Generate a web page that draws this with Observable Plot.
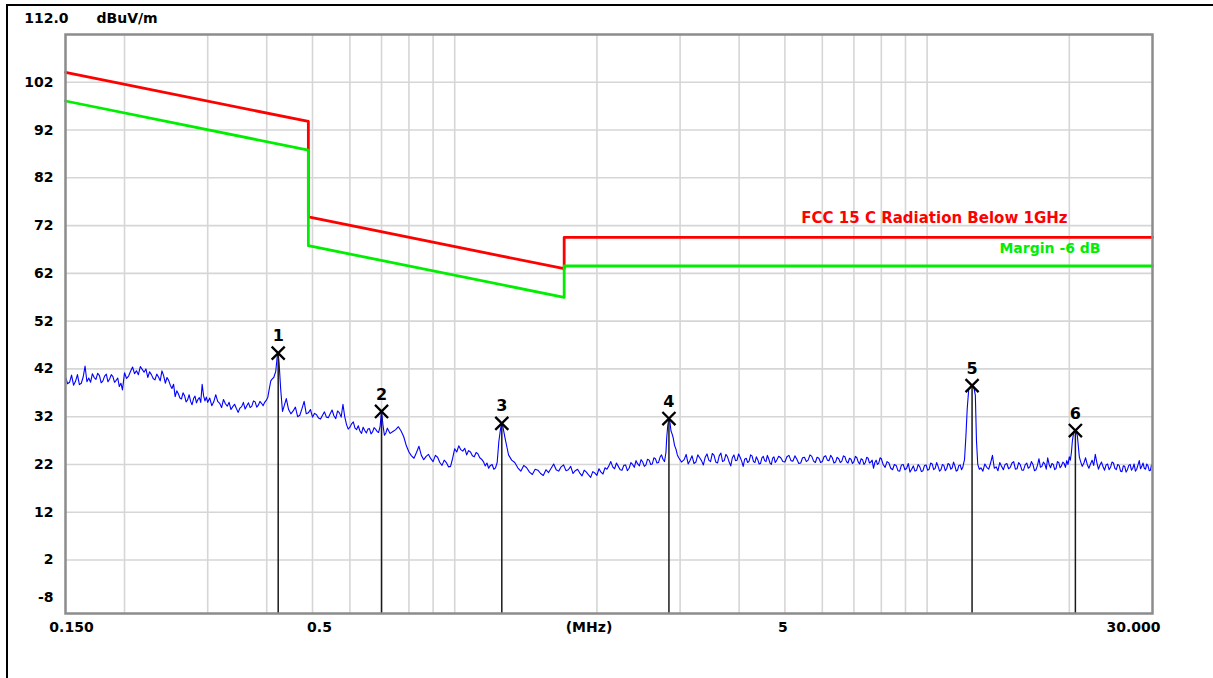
<!DOCTYPE html>
<html>
<head>
<meta charset="utf-8">
<script src="https://cdn.jsdelivr.net/npm/d3@7"></script>
<script src="https://cdn.jsdelivr.net/npm/@observablehq/plot@0.6"></script>
<style>
  html, body { margin: 0; padding: 0; background: #fff; overflow: hidden; }
  #wrap { position: relative; width: 1213px; height: 678px; }
  #wrap svg { position: absolute; left: 0; top: 0; }
  #border { position: absolute; left: 6px; top: 4px; right: 0; bottom: 0;
            border-top: 2px solid #000; border-left: 2px solid #000; pointer-events: none; }
</style>
</head>
<body>
<div id="wrap"><div id="border"></div></div>
<script>
// ---- Radiated emission scan, 0.15 – 30 MHz ----

// FCC Part 15 C limit (dBuV/m) and the -6 dB margin line
const limitName = "FCC 15 C Radiation Below 1GHz";
const marginName = "Margin -6 dB";
const marginOffset = -6;
const limitFreq  = [0.15, 0.49, 0.49, 1.705, 1.705, 30];
const limitLevel = [104.08, 93.8, 73.8, 62.97, 69.54, 69.54];

// Measured trace: [frequency MHz, level dBuV/m]
const scanPoints = [
  [0.150,40.3],[0.1515,38.9],[0.153,39.2],[0.1545,40.7],[0.156,38.6],[0.1575,39.4],[0.159,40.8],[0.1605,38.7],
  [0.162,39.0],[0.1635,40.3],[0.165,42.6],[0.1665,39.3],[0.168,40.1],[0.1695,39.2],[0.171,41.0],[0.1725,40.2],
  [0.174,39.8],[0.1755,41.1],[0.177,40.6],[0.1785,39.1],[0.180,39.5],[0.1815,40.5],[0.183,40.9],[0.1845,39.3],
  [0.186,39.9],[0.1875,40.8],[0.189,40.4],[0.1905,39.2],[0.192,39.6],[0.1935,40.1],[0.195,38.3],[0.1965,39.0],
  [0.198,37.6],[0.199,39.4],
  [0.200,41.2],[0.202,40.0],[0.204,40.5],[0.206,41.5],[0.208,42.4],[0.210,41.0],[0.212,41.6],[0.214,40.8],
  [0.216,42.5],[0.218,41.9],[0.220,41.3],[0.222,42.0],[0.224,40.2],[0.226,41.4],[0.228,40.8],[0.230,40.0],
  [0.232,39.7],[0.234,40.9],[0.236,40.3],[0.238,39.5],[0.240,41.6],[0.242,40.6],[0.244,39.0],[0.246,40.2],
  [0.248,39.6],[0.250,38.6],[0.252,37.9],[0.254,38.8],[0.256,36.2],[0.258,37.4],[0.260,36.8],[0.262,35.9],
  [0.264,35.7],[0.266,37.0],[0.268,36.4],[0.270,35.1],[0.272,35.5],[0.274,36.6],[0.276,35.2],[0.278,34.5],
  [0.280,35.8],[0.282,36.3],[0.284,34.9],[0.286,35.6],[0.288,36.0],[0.290,35.0],[0.292,38.8],[0.294,36.4],
  [0.296,35.3],[0.298,36.1],
  [0.300,35.0],[0.303,35.9],[0.306,34.3],[0.309,35.1],[0.312,36.6],[0.315,35.2],[0.318,34.8],[0.321,33.9],
  [0.324,35.6],[0.327,34.7],[0.330,34.2],[0.333,35.0],[0.336,33.5],[0.339,34.1],[0.342,34.6],[0.345,33.7],
  [0.348,32.9],[0.351,33.8],[0.354,34.1],[0.357,35.0],[0.360,33.6],[0.363,34.3],[0.366,34.9],[0.369,33.9],
  [0.372,34.2],[0.375,35.3],[0.378,35.1],[0.381,34.0],[0.384,34.4],[0.387,35.2],[0.390,34.8],[0.393,34.3],
  [0.396,35.0],[0.399,35.4],[0.402,36.0],[0.405,37.8],[0.408,39.5],[0.411,39.9],[0.414,40.2],[0.418,41.5],
  [0.421,44.6],[0.423,45.3],[0.425,43.0],[0.428,38.0],[0.430,35.5],[0.432,33.1],[0.436,34.4],
  [0.44,35.8],[0.445,33.5],[0.45,32.6],[0.455,33.2],[0.46,34.0],[0.465,32.0],[0.47,32.3],[0.475,33.7],
  [0.48,35.2],[0.485,32.6],[0.49,32.8],[0.495,33.5],[0.50,31.9],[0.505,32.7],[0.51,32.4],[0.515,31.7],
  [0.52,31.5],[0.525,32.3],[0.53,33.0],[0.535,31.9],[0.54,31.8],[0.545,32.6],[0.55,33.4],[0.555,32.2],
  [0.56,31.6],[0.565,33.2],[0.57,32.8],[0.575,31.9],[0.58,34.6],[0.585,32.0],[0.59,30.4],[0.595,29.4],
  [0.60,29.8],[0.605,30.5],[0.61,30.9],[0.615,29.6],[0.62,29.3],[0.625,30.1],[0.63,29.0],[0.635,28.5],
  [0.64,29.8],[0.645,29.1],[0.65,28.6],[0.655,29.4],[0.66,29.5],[0.665,28.4],[0.67,28.8],[0.675,29.7],
  [0.68,29.4],[0.685,28.9],[0.69,28.7],[0.695,29.9],[0.700,33.1],[0.705,30.2],[0.71,28.1],[0.715,28.6],
  [0.72,29.6],[0.73,28.5],[0.74,28.9],[0.75,29.3],[0.76,29.9],[0.77,29.0],[0.78,27.8],[0.79,25.9],
  [0.80,24.6],[0.81,23.8],[0.82,23.3],[0.83,24.5],[0.84,25.8],[0.85,23.9],[0.86,23.0],[0.87,23.7],
  [0.88,24.1],[0.89,23.2],[0.90,22.6],[0.91,23.9],[0.92,23.5],[0.93,22.4],[0.94,21.8],[0.95,22.9],
  [0.96,22.4],[0.97,21.5],[0.98,21.6],[0.99,23.3],[1.00,25.3],[1.01,24.6],[1.02,25.9],[1.03,25.1],
  [1.04,24.8],[1.05,25.4],[1.06,24.0],[1.07,24.9],[1.08,24.6],[1.09,23.8],[1.10,23.6],[1.11,24.5],
  [1.12,24.2],[1.13,23.4],[1.14,23.1],[1.15,22.6],[1.16,21.7],[1.17,22.3],[1.18,21.2],[1.19,21.8],
  [1.20,22.0],[1.21,21.0],[1.22,21.3],[1.23,22.4],[1.24,26.8],[1.25,29.4],[1.258,30.6],[1.265,29.8],
  [1.28,27.2],[1.29,25.6],[1.30,24.0],[1.32,22.9],
  [1.34,22.4],[1.36,21.3],[1.38,20.6],[1.40,21.8],[1.42,21.3],[1.44,20.4],[1.46,19.9],[1.48,21.0],
  [1.50,20.8],[1.52,20.1],[1.54,19.7],[1.56,20.9],[1.58,20.3],[1.60,21.2],[1.62,22.1],[1.64,20.9],
  [1.66,20.6],[1.68,21.5],[1.70,21.9],[1.72,20.7],[1.74,20.9],[1.76,21.6],[1.78,20.1],[1.80,20.7],
  [1.82,21.0],[1.84,20.2],[1.86,19.6],[1.88,20.8],[1.90,20.4],[1.92,19.8],[1.94,19.3],[1.96,20.5],
  [1.98,20.2],[2.00,19.7],[2.02,21.1],[2.04,20.4],[2.06,20.0],[2.08,21.3],[2.10,21.0],[2.12,21.7],
  [2.14,22.6],[2.16,21.5],[2.18,21.1],[2.20,22.3],[2.22,21.6],[2.24,20.9],[2.26,20.8],[2.28,21.8],
  [2.30,21.9],[2.32,20.7],[2.34,21.2],[2.36,22.4],[2.38,22.0],[2.40,21.4],[2.42,22.8],[2.44,22.1],
  [2.46,21.7],[2.48,23.0],[2.50,22.5],[2.52,21.6],[2.54,21.9],[2.56,23.1],[2.58,22.9],[2.60,22.0],
  [2.62,22.1],[2.64,23.4],[2.66,23.2],[2.68,22.3],[2.70,22.4],[2.72,23.5],[2.74,24.0],[2.76,23.1],
  [2.78,22.6],[2.80,24.5],[2.81,27.5],[2.825,30.2],[2.841,31.6],[2.855,30.8],[2.87,29.0],[2.885,28.4],
  [2.90,27.6],[2.92,26.0],[2.94,25.2],[2.96,24.0],[2.98,23.4],[3.02,22.5],
  [3.06,23.0],[3.09,24.1],[3.12,22.1],[3.15,22.9],[3.18,23.8],[3.21,22.2],[3.24,22.5],[3.27,24.0],
  [3.30,23.4],[3.33,22.8],[3.36,21.9],[3.39,23.5],[3.42,24.2],[3.45,22.9],[3.48,22.6],[3.51,24.3],
  [3.54,23.9],[3.57,22.5],[3.60,22.3],[3.63,23.8],[3.66,24.4],[3.69,22.6],[3.72,22.8],[3.75,24.1],
  [3.78,23.6],[3.81,22.5],[3.84,21.7],[3.87,23.4],[3.90,24.0],[3.93,22.8],[3.96,22.9],[3.99,24.2],
  [4.02,23.5],[4.05,22.7],[4.08,21.6],[4.11,23.1],[4.14,23.3],[4.17,22.4],[4.20,22.7],[4.23,24.0],
  [4.26,23.8],[4.29,22.6],[4.32,22.4],[4.35,23.6],[4.38,23.0],[4.41,22.1],[4.44,22.2],[4.47,23.4],
  [4.50,23.7],[4.53,22.8],[4.56,22.6],[4.59,23.9],[4.62,23.2],[4.65,22.3],[4.68,22.0],[4.71,23.3],
  [4.74,23.6],[4.77,22.4],[4.80,22.8],[4.85,23.7],
  [4.9,23.4],[4.95,22.6],[5.0,22.5],[5.05,23.6],[5.1,23.9],[5.15,22.8],[5.2,22.7],[5.25,23.8],
  [5.3,23.1],[5.35,22.2],[5.4,22.3],[5.45,23.4],[5.5,23.5],[5.55,22.6],[5.6,22.9],[5.65,24.0],
  [5.7,23.7],[5.75,22.7],[5.8,22.4],[5.85,23.5],[5.9,23.3],[5.95,22.4],[6.0,22.6],[6.05,23.6],
  [6.1,23.8],[6.15,22.9],[6.2,22.8],[6.25,23.9],[6.3,23.4],[6.35,22.3],[6.4,22.5],[6.45,23.5],
  [6.5,23.2],[6.55,22.4],[6.6,22.7],[6.65,23.8],[6.7,23.6],[6.75,22.6],[6.8,22.3],[6.85,23.3],
  [6.9,23.1],[6.95,22.2],[7.0,22.6],[7.05,23.7],[7.1,23.4],[7.15,22.5],[7.2,22.1],[7.25,23.2],
  [7.3,23.0],[7.35,22.0],[7.4,22.4],[7.45,23.5],[7.5,23.3],[7.55,22.3],[7.6,22.5],[7.65,22.9],
  [7.7,21.2],[7.75,22.4],[7.8,22.9],[7.85,22.0],[7.9,22.3],[7.95,23.4],[8.0,23.2],[8.07,22.0],
  [8.15,21.4],[8.225,22.6],[8.3,22.3],[8.375,21.2],[8.45,20.9],[8.525,22.0],[8.6,21.8],[8.675,20.7],
  [8.75,20.6],[8.825,21.9],[8.9,22.0],[8.975,20.9],[9.05,21.2],[9.125,22.2],[9.2,20.4],[9.275,21.0],
  [9.35,21.7],[9.425,20.6],[9.5,20.8],[9.575,22.0],[9.65,21.5],[9.725,20.5],[9.8,20.7],[9.875,21.8],
  [9.95,21.9],[10.025,20.8],[10.1,21.0],[10.175,22.3],[10.25,22.1],[10.325,20.9],[10.4,21.2],[10.475,22.4],
  [10.55,21.6],[10.625,20.6],[10.7,20.9],[10.775,22.0],[10.85,21.8],[10.925,20.7],[11.0,21.1],[11.075,22.2],
  [11.15,22.0],[11.225,21.0],[11.3,21.3],[11.375,22.5],[11.45,21.7],[11.525,20.6],[11.6,20.8],[11.675,21.8],
  [11.75,21.9],[11.825,20.9],[11.9,21.4],[11.95,22.3],
  [12.0,23.0],[12.08,27.8],[12.16,33.7],[12.25,37.8],[12.35,38.2],[12.45,38.5],[12.55,38.3],[12.65,36.5],
  [12.72,27.0],[12.8,22.0],[12.9,21.0],
  [13.0,21.3],[13.125,20.6],[13.25,22.1],[13.375,21.4],[13.5,21.0],[13.625,22.3],[13.75,23.9],[13.875,21.2],
  [14.0,21.5],[14.125,20.7],[14.25,22.4],[14.375,21.6],[14.5,20.9],[14.625,22.0],[14.75,22.2],[14.875,21.1],
  [15.0,21.4],[15.125,22.3],[15.25,22.6],[15.375,21.0],[15.5,21.1],[15.625,22.4],[15.75,21.9],[15.875,20.8],
  [16.0,20.8],[16.125,21.9],[16.25,22.3],[16.375,21.2],[16.5,21.5],[16.625,22.6],[16.75,22.0],[16.875,20.7],
  [17.0,20.9],[17.125,21.8],[17.25,23.2],[17.375,21.4],[17.5,21.6],[17.625,22.5],[17.75,22.1],[17.875,21.0],
  [18.0,23.4],[18.125,22.0],[18.25,21.3],[18.375,22.2],[18.5,22.0],[18.625,20.9],[18.75,21.2],[18.875,22.6],
  [19.0,22.4],[19.125,21.3],[19.25,21.7],[19.375,22.5],[19.5,22.2],[19.625,21.4],[19.75,22.8],[19.875,22.0],
  [20.0,23.6],[20.1,22.9],[20.2,24.4],[20.3,26.9],[20.4,28.3],[20.5,28.9],[20.6,29.1],[20.7,28.7],
  [20.8,28.0],[20.9,25.8],[21.0,23.6],[21.15,22.5],[21.3,21.6],[21.475,22.3],[21.65,23.4],[21.825,22.0],
  [22.0,21.2],[22.175,22.1],[22.35,22.9],[22.525,21.8],[22.7,24.1],[22.875,22.4],[23.05,21.0],[23.225,21.9],
  [23.4,22.5],[23.575,21.5],[23.75,20.8],[23.925,21.9],[24.1,22.1],[24.275,20.9],[24.45,21.4],[24.625,22.5],
  [24.8,22.3],[24.975,21.2],[25.15,20.9],[25.325,22.0],[25.5,21.8],[25.675,20.6],[25.85,20.5],[26.025,21.7],
  [26.2,21.6],[26.375,20.4],[26.55,20.9],[26.725,21.8],[26.9,22.0],[27.075,20.8],[27.25,21.2],[27.425,22.1],
  [27.6,20.6],[27.775,21.0],[27.95,21.9],[28.125,22.8],[28.3,21.1],[28.475,21.6],[28.65,22.3],[28.825,21.2],
  [29.0,21.0],[29.175,22.1],[29.35,21.7],[29.525,20.7],[29.7,20.8],[29.85,21.9],[30.0,21.4]
];

// Peak markers
const markerId    = ["1", "2", "3", "4", "5", "6"];
const markerFreq  = [0.423, 0.700, 1.258, 2.841, 12.45, 20.6];
const markerLevel = [45.3, 33.1, 30.6, 31.6, 38.5, 29.1];

// Axes
const yMin = -9.2, yMax = 112;
const yTopLabel = "112.0";
const yUnit = "dBuV/m";
const yTicks = [102, 92, 82, 72, 62, 52, 42, 32, 22, 12, 2];
const yBottomTick = -8;
const xGrid = [0.2, 0.3, 0.4, 0.5, 0.6, 0.7, 0.8, 0.9, 1, 2, 3, 4, 5, 6, 7, 8, 9, 10, 20];
const xTickValues = [0.15, 0.5, 5, 30];
const xTickLabels = ["0.150", "0.5", "5", "30.000"];
const xUnit = "(MHz)";

const limit  = limitFreq.map((f, i) => ({f, v: limitLevel[i]}));
const margin = limitFreq.map((f, i) => ({f, v: limitLevel[i] + marginOffset}));
const scan   = scanPoints.map(([f, v]) => ({f, v}));
const markers = markerId.map((n, i) => ({n, f: markerFreq[i], v: markerLevel[i]}));

const RED = "#ff0000", GREEN = "#00ee00", BLUE = "#0000ff", GRID = "#d6d6d6";
const bold = {fontFamily: "DejaVu Sans", fontWeight: "bold", fill: "#000"};

// one x tick label, nudged horizontally like the analyser printout
const xLabel = (i, dx) => Plot.text([i], {
  x: j => xTickValues[j], text: j => xTickLabels[j],
  frameAnchor: "bottom", lineAnchor: "middle", dx, dy: 14, fontSize: 14, ...bold
});

const chart = Plot.plot({
  width: 1213,
  height: 678,
  marginLeft: 65,
  marginRight: 61,
  marginTop: 34,
  marginBottom: 65,
  style: {background: "transparent", fontFamily: "DejaVu Sans"},
  x: {type: "log", domain: [0.15, 30], axis: null},
  y: {domain: [yMin, yMax], axis: null},
  marks: [
    // grid
    Plot.ruleX(xGrid, {x: d => d, stroke: GRID, strokeWidth: 1.6}),
    Plot.ruleY(yTicks, {y: d => d, stroke: GRID, strokeWidth: 1.6}),
    // limit and margin lines
    Plot.line(limit, {x: "f", y: "v", stroke: RED, strokeWidth: 2.8}),
    Plot.line(margin, {x: "f", y: "v", stroke: GREEN, strokeWidth: 2.8}),
    // measured trace
    Plot.line(scan, {x: "f", y: "v", stroke: BLUE, strokeWidth: 1.1}),
    // peak markers
    Plot.ruleX(markers, {x: "f", y1: "v", y2: yMin, stroke: "#1a1a1a", strokeWidth: 1.5}),
    Plot.dot(markers, {x: "f", y: "v", symbol: "times", r: 6, stroke: "#000", strokeWidth: 2.3}),
    Plot.text(markers, {x: "f", y: "v", text: "n", dy: -17, fontSize: 16, ...bold}),
    // plot frame
    Plot.frame({stroke: "#8c8c8c", strokeWidth: 2.5}),
    // y labels
    Plot.text(yTicks, {y: d => d, text: d => String(d), frameAnchor: "left", textAnchor: "end", dx: -12, fontSize: 14, ...bold}),
    Plot.text([yBottomTick], {y: d => d, text: d => String(d), frameAnchor: "left", textAnchor: "end", dx: -12, dy: -10, fontSize: 14, ...bold}),
    Plot.text([yTopLabel], {frameAnchor: "top-left", lineAnchor: "middle", textAnchor: "end", dx: 3, dy: -16, fontSize: 14, ...bold}),
    Plot.text([yUnit], {frameAnchor: "top-left", lineAnchor: "middle", textAnchor: "start", dx: 31, dy: -16, fontSize: 14, ...bold}),
    // x labels
    xLabel(0, 6),
    xLabel(1, 7),
    xLabel(2, -2),
    xLabel(3, -19),
    Plot.text([xUnit], {frameAnchor: "bottom", lineAnchor: "middle", dx: -20, dy: 14, fontSize: 14, ...bold}),
    // line legends
    Plot.text([limitName], {y: () => limitLevel[limitLevel.length - 1], frameAnchor: "right", textAnchor: "end",
      dx: -85, dy: -19, fontSize: 15, fontFamily: "DejaVu Sans", fontWeight: "bold", fill: RED}),
    Plot.text([marginName], {y: () => limitLevel[limitLevel.length - 1] + marginOffset, frameAnchor: "right", textAnchor: "end",
      dx: -52, dy: -17, fontSize: 14, fontFamily: "DejaVu Sans", fontWeight: "bold", fill: GREEN})
  ]
});

document.getElementById("wrap").prepend(chart);
</script>
</body>
</html>
